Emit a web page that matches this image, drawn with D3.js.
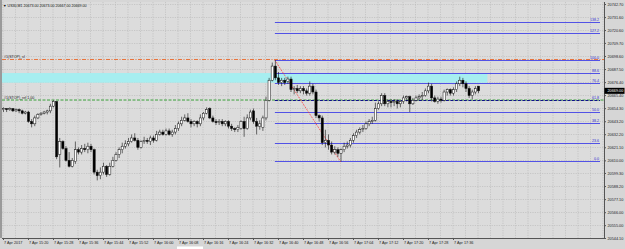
<!DOCTYPE html>
<html>
<head>
<meta charset="utf-8">
<script src="https://cdn.jsdelivr.net/npm/d3@7"></script>
<style>
body { margin: 0; background: #d6d6d6; }
svg { display: block; font-family: "Liberation Sans", Arial, sans-serif; }
</style>
</head>
<body>
<svg id="chart"></svg>
<script>
// header of the window
const symbol = "US30,M1";
const lastBar = ["20673.00", "20673.00", "20667.00", "20669.00"];
const lastPrice = 20669;

// M1 bars, one per minute from 15:12
const startTime = new Date(2017, 3, 7, 15, 12);
const open = [20653,20654,20653,20654,20652,20653,20652,20650,20651,20643,
  20641,20646,20649,20650,20651,20652,20656,20660,20615,20626,
  20620,20610,20605,20609,20619,20617,20620,20619,20622,20619,
  20600,20597,20600,20605,20598,20605,20610,20615,20619,20622,
  20624,20626,20629,20627,20621,20626,20627,20626,20629,20627,
  20632,20634,20632,20635,20632,20634,20637,20641,20644,20646,
  20643,20641,20643,20641,20646,20650,20654,20646,20643,20642,
  20643,20641,20643,20639,20637,20636,20637,20643,20637,20646,
  20652,20643,20639,20638,20646,20661,20678,20690,20680,20676,
  20678,20677,20679,20670,20671,20669,20671,20669,20667,20673,
  20668,20648,20646,20625,20627,20623,20617,20619,20616,20619,
  20622,20623,20627,20631,20634,20636,20637,20641,20643,20644,
  20654,20658,20665,20658,20660,20659,20660,20658,20660,20663,
  20664,20658,20661,20663,20664,20665,20669,20673,20663,20660,
  20662,20661,20668,20670,20667,20670,20675,20678,20675,20671,
  20665,20668,20673];
const high = [20655,20654,20655,20654,20654,20654,20653,20652,20652,20645,
  20648,20650,20651,20652,20653,20658,20661,20660,20629,20627,
  20622,20617,20612,20626,20621,20623,20624,20625,20624,20620,
  20602,20604,20608,20606,20608,20613,20617,20621,20625,20627,
  20629,20632,20633,20629,20627,20630,20629,20631,20631,20635,
  20636,20636,20637,20637,20636,20640,20643,20647,20649,20650,
  20645,20644,20644,20649,20651,20655,20655,20648,20645,20645,
  20645,20644,20644,20641,20638,20640,20644,20647,20649,20653,
  20654,20646,20644,20648,20664,20680,20693,20695,20685,20680,
  20680,20681,20681,20673,20674,20673,20673,20671,20677,20675,
  20670,20649,20648,20636,20632,20626,20622,20621,20620,20625,
  20626,20629,20633,20636,20638,20640,20643,20645,20647,20659,
  20660,20667,20667,20662,20662,20662,20662,20661,20665,20665,
  20665,20663,20665,20666,20668,20671,20676,20675,20665,20664,
  20664,20670,20671,20671,20672,20677,20681,20680,20677,20673,
  20670,20673,20673];
const low = [20651,20651,20652,20651,20651,20650,20649,20649,20642,20638,
  20639,20645,20648,20649,20649,20650,20655,20611,20604,20619,
  20609,20604,20604,20607,20615,20615,20617,20616,20617,20598,
  20593,20594,20598,20596,20597,20604,20609,20612,20616,20620,
  20622,20625,20626,20619,20620,20624,20624,20623,20625,20626,
  20631,20631,20631,20631,20630,20632,20635,20639,20643,20642,
  20638,20639,20638,20639,20644,20649,20645,20642,20640,20640,
  20639,20639,20637,20635,20634,20634,20636,20630,20636,20644,
  20641,20632,20636,20635,20644,20660,20677,20678,20674,20673,
  20674,20675,20668,20666,20667,20667,20666,20665,20665,20666,
  20646,20643,20623,20621,20619,20615,20615,20613,20609,20617,
  20620,20621,20625,20629,20632,20634,20636,20639,20641,20643,
  20653,20656,20656,20655,20655,20656,20654,20655,20658,20660,
  20651,20657,20660,20661,20661,20664,20667,20660,20659,20658,
  20659,20660,20665,20665,20665,20668,20673,20672,20668,20663,
  20662,20666,20667];
const close = [20654,20653,20654,20652,20653,20652,20650,20651,20643,20641,
  20646,20649,20650,20651,20652,20656,20660,20613,20626,20620,
  20610,20605,20610,20619,20617,20620,20619,20622,20619,20600,
  20597,20600,20605,20598,20605,20610,20615,20619,20622,20624,
  20626,20629,20627,20621,20626,20627,20626,20629,20627,20632,
  20634,20632,20635,20632,20634,20637,20641,20644,20646,20643,
  20641,20643,20641,20646,20650,20653,20646,20643,20642,20643,
  20641,20643,20639,20637,20636,20638,20643,20637,20646,20651,
  20643,20639,20641,20646,20661,20678,20690,20680,20676,20678,
  20676,20679,20670,20671,20669,20671,20669,20667,20673,20668,
  20648,20646,20625,20627,20623,20617,20619,20616,20619,20622,
  20623,20627,20631,20634,20636,20637,20641,20643,20644,20654,
  20658,20665,20658,20660,20659,20660,20658,20660,20663,20664,
  20658,20661,20663,20664,20665,20669,20673,20663,20660,20662,
  20661,20668,20670,20667,20670,20675,20678,20675,20671,20665,
  20668,20671,20669];

// axis labels
const priceTicks = [20742.70, 20731.60, 20720.60, 20709.70, 20698.60, 20687.50, 20676.40,
  20665.40, 20654.30, 20643.20, 20632.20, 20621.10, 20610.00, 20599.30, 20588.20,
  20577.10, 20566.00, 20555.00, 20544.10];
const timeTicks = ["7 Apr 2017", "7 Apr 15:20", "7 Apr 15:28", "7 Apr 15:36", "7 Apr 15:44",
  "7 Apr 15:52", "7 Apr 16:00", "7 Apr 16:08", "7 Apr 16:16", "7 Apr 16:24", "7 Apr 16:32",
  "7 Apr 16:40", "7 Apr 16:48", "7 Apr 16:56", "7 Apr 17:04", "7 Apr 17:12", "7 Apr 17:20",
  "7 Apr 17:28", "7 Apr 17:36"];

// fibonacci object, anchored from the top bar to the bottom bar
const fibLabels = ["138.2", "127.2", "100.0", "88.6", "76.4", "61.8", "50.0", "38.2", "23.6", "0.0"];
const fibPrices = [20727.4, 20717.7, 20695.2, 20684.1, 20675.7, 20661.2, 20651.0, 20642.1, 20624.7, 20609.5];
const fibFrom = { bar: 87, price: 20695 };
const fibTo = { bar: 108, price: 20609 };

// order lines and supply zone
const stopSl = 20695.6;
const stopRef = 20661.2;
const zoneTop = 20684.1, zoneBottom = 20675.9, zoneEndBar = 155;

const width = 625, height = 249;
const plotLeft = 2, plotRight = 604, plotTop = 2, plotBottom = 238;

const svg = d3.select("#chart").attr("width", width).attr("height", height);

const barTime = i => d3.timeMinute.offset(startTime, i);
const x = d3.scaleTime()
  .domain([startTime, d3.timeMinute.offset(startTime, 192)])
  .range([plotLeft + 1, plotLeft + 1 + 192 * 3.125]);
const y = d3.scaleLinear().domain([20544.1, 20742.7]).range([plotBottom, 4]);

// chart background
svg.append("rect").attr("width", width).attr("height", height).attr("fill", "#d6d6d6");
svg.append("rect").attr("x", plotLeft).attr("y", plotTop)
  .attr("width", plotRight - plotLeft).attr("height", plotBottom - plotTop)
  .attr("fill", "#dcdcdc");
svg.append("rect").attr("x", 0).attr("y", 0).attr("width", 2).attr("height", plotBottom).attr("fill", "#9a9a9a");

// grid
const grid = svg.append("g").attr("stroke", "#bcbcbc").attr("stroke-width", 0.7)
  .attr("stroke-dasharray", "1.2,1.2");
grid.selectAll("line.h").data(priceTicks).join("line").attr("class", "h")
  .attr("x1", plotLeft).attr("x2", plotRight)
  .attr("y1", d => Math.round(y(d)) + 0.5).attr("y2", d => Math.round(y(d)) + 0.5);
grid.selectAll("line.v").data(d3.range(0, 193, 4)).join("line").attr("class", "v")
  .attr("x1", d => x(barTime(d))).attr("x2", d => x(barTime(d)))
  .attr("y1", plotTop).attr("y2", plotBottom);

// supply zone
svg.append("rect")
  .attr("x", plotLeft).attr("width", x(barTime(zoneEndBar)) - plotLeft)
  .attr("y", y(zoneTop)).attr("height", y(zoneBottom) - y(zoneTop))
  .attr("fill", "#a6eef0");

// order lines
svg.append("line").attr("x1", plotLeft).attr("x2", plotRight).attr("y1", y(stopSl)).attr("y2", y(stopSl))
  .attr("stroke", "#e8743c").attr("stroke-width", 1).attr("stroke-dasharray", "4,1.5,1,1.5");
svg.append("line").attr("x1", plotLeft).attr("x2", plotRight).attr("y1", y(stopRef)).attr("y2", y(stopRef))
  .attr("stroke", "#3aa03a").attr("stroke-width", 1).attr("stroke-dasharray", "3,1.5");
svg.append("text").attr("x", 4).attr("y", y(stopSl) - 1.5).attr("font-size", 3.6).attr("fill", "#222")
  .text("#1(STOP)_sl");
svg.append("text").attr("x", 4).attr("y", y(stopRef) - 1.5).attr("font-size", 3.6).attr("fill", "#222")
  .text("#1(STOP)_ref 1.00");

// fibo levels
const fx0 = x(barTime(fibFrom.bar)), fx1 = plotRight - 4;
const fib = svg.append("g");
fib.selectAll("line").data(fibPrices).join("line")
  .attr("x1", fx0).attr("x2", fx1)
  .attr("y1", d => Math.round(y(d)) + 0.5).attr("y2", d => Math.round(y(d)) + 0.5)
  .attr("stroke", (d, i) => fibLabels[i] === "61.8" ? "#10108a" : "#5252e6")
  .attr("stroke-width", 1)
  .attr("stroke-dasharray", (d, i) => fibLabels[i] === "61.8" ? "3,1.5" : null);
fib.selectAll("text").data(fibPrices).join("text")
  .attr("x", fx1 - 1).attr("y", d => y(d) - 1)
  .attr("text-anchor", "end").attr("font-size", 3.6).attr("fill", "#3030d0")
  .text((d, i) => fibLabels[i]);
svg.append("line")
  .attr("x1", x(barTime(fibFrom.bar))).attr("y1", y(fibFrom.price))
  .attr("x2", x(barTime(fibTo.bar))).attr("y2", y(fibTo.price))
  .attr("stroke", "#ff3030").attr("stroke-width", 0.9).attr("stroke-dasharray", "1,1");

// candles
const bars = d3.range(open.length);
const candles = svg.append("g");
candles.selectAll("line").data(bars).join("line")
  .attr("x1", i => x(barTime(i)) + 0.5).attr("x2", i => x(barTime(i)) + 0.5)
  .attr("y1", i => y(high[i])).attr("y2", i => y(low[i]))
  .attr("stroke", "#111").attr("stroke-width", 0.6);
candles.selectAll("rect").data(bars).join("rect")
  .attr("x", i => x(barTime(i)) - 0.6)
  .attr("width", 2.2)
  .attr("y", i => y(Math.max(open[i], close[i])))
  .attr("height", i => Math.max(0.6, Math.abs(y(open[i]) - y(close[i]))))
  .attr("fill", i => close[i] >= open[i] ? "#ffffff" : "#000000")
  .attr("stroke", "#111").attr("stroke-width", 0.5);

// price axis
const yAxis = svg.append("g").attr("transform", `translate(${plotRight},0)`)
  .call(d3.axisRight(y).tickValues(priceTicks).tickFormat(d => d.toFixed(2)).tickSize(2).tickPadding(1.5));
yAxis.select(".domain").attr("stroke", "#555").attr("d", `M0.5,${plotTop}V${plotBottom}`);
yAxis.selectAll(".tick line").attr("stroke", "#555");
yAxis.selectAll(".tick text").attr("font-size", 3.8).attr("fill", "#222").attr("font-family", null);

// current price box
const cp = svg.append("g").attr("transform", `translate(${plotRight},${y(lastPrice)})`);
cp.append("rect").attr("x", 0.5).attr("y", -3).attr("width", 20).attr("height", 6).attr("fill", "#000");
cp.append("text").attr("x", 3.5).attr("y", 1.3).attr("font-size", 3.8).attr("fill", "#fff")
  .text(lastPrice.toFixed(2));

// time axis
const xAxis = svg.append("g").attr("transform", `translate(0,${plotBottom})`)
  .call(d3.axisBottom(x)
    .tickValues(timeTicks.map((d, i) => barTime(8 * i)))
    .tickFormat((d, i) => timeTicks[i]).tickSize(2).tickPadding(1.5));
xAxis.select(".domain").attr("stroke", "#555").attr("d", `M${plotLeft},0.5H${plotRight + 0.5}`);
xAxis.selectAll(".tick line").attr("stroke", "#555");
xAxis.selectAll(".tick text").attr("font-size", 3.8).attr("fill", "#222").attr("font-family", null)
  .attr("text-anchor", "start").attr("dx", 0.5);

// header text
svg.append("text").attr("x", 3).attr("y", 6.5).attr("font-size", 3.6).attr("fill", "#111")
  .text("\u25BC " + symbol + "  " + lastBar.join(" "));

// bottom strip
svg.append("rect").attr("x", 177).attr("y", 246.5).attr("width", 26).attr("height", 2.5).attr("fill", "#fff");
</script>
</body>
</html>
